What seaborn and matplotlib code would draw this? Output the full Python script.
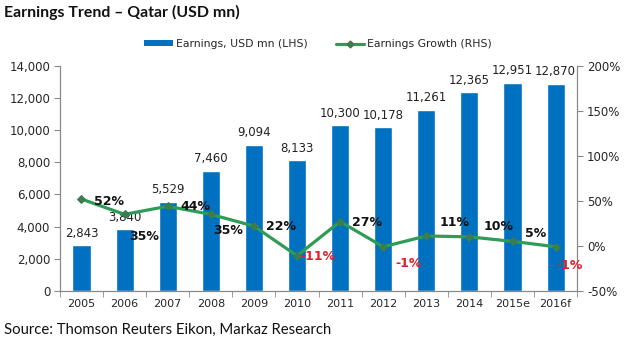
import matplotlib
matplotlib.use("Agg")
import matplotlib.pyplot as plt
import seaborn as sns
import numpy as np
import pandas as pd

years = ["2005", "2006", "2007", "2008", "2009", "2010", "2011", "2012", "2013", "2014", "2015e", "2016f"]
earnings = [2843, 3840, 5529, 7460, 9094, 8133, 10300, 10178, 11261, 12365, 12951, 12870]
growth = [52, 35, 44, 35, 22, -11, 27, -1, 11, 10, 5, -1]
# label offsets in pixels (dx, dy) relative to each growth point
label_offsets = [(13, -2), (5, -22), (13, 0), (2, -16), (12, 0), (3, -1), (12, -1), (12, -17), (13, 13), (14, 10), (12, 8), (1, -19)]

sns.set_style("white")
plt.rcParams['font.family'] = ['DejaVu Sans']
BODY = "DejaVu Sans"
HEAD = "Lato"

BLUE = "#0070C0"
GREEN = "#2E9B57"

fig = plt.figure(figsize=(6.24, 3.43), dpi=100)
ax = fig.add_axes([0.096, 0.152, 0.829, 0.656])

df = pd.DataFrame({"year": years, "earnings": earnings, "growth": growth})
sns.barplot(data=df, x="year", y="earnings", color=BLUE, width=0.42, saturation=1, ax=ax, zorder=2)

ax.set_ylim(0, 14000)
ax.set_yticks(np.arange(0, 14001, 2000))
ax.set_yticklabels([f"{v:,}" for v in range(0, 14001, 2000)], fontsize=8.5, fontfamily=BODY)
ax.set_xlim(-0.5, len(years) - 0.5)
ax.set_xticks(range(len(years)))
ax.set_xticklabels(years, fontsize=8, fontfamily=BODY)
ax.set_xlabel("")
ax.set_ylabel("")
ax.tick_params(axis="x", length=0, pad=6)
ax.tick_params(axis="y", length=4, color="#888888", direction="out", left=True, pad=3)
ax.set_xticks(np.arange(-0.5, len(years), 1), minor=True)
ax.tick_params(axis="x", which="minor", length=4, color="#888888", bottom=True)

ax.spines["top"].set_visible(False)
for s in ["left", "bottom", "right"]:
    ax.spines[s].set_color("#888888")
    ax.spines[s].set_linewidth(0.8)

for i, v in enumerate(earnings):
    ax.annotate(f"{v:,}", (i, v), xytext=(0, 4), textcoords="offset points",
                ha="center", va="bottom", fontsize=8.5, color="#222222", fontfamily=BODY)

ax2 = ax.twinx()
sns.lineplot(x=np.arange(len(years)), y=growth, ax=ax2, color=GREEN, linewidth=2.3,
             marker="D", markersize=4.5, markeredgecolor="#3a7d4f", markerfacecolor="#3a7d4f", zorder=3)
ax2.set_ylim(-50, 200)
ax2.set_yticks(np.arange(-50, 201, 50))
ax2.set_yticklabels([f"{v}%" for v in range(-50, 201, 50)], fontsize=8.5, fontfamily=BODY)
ax2.tick_params(axis="y", length=4, color="#888888", direction="out", right=True, pad=3)
ax2.spines["top"].set_visible(False)
for s in ["left", "bottom", "right"]:
    ax2.spines[s].set_color("#888888")
    ax2.spines[s].set_linewidth(0.8)
ax2.set_xlim(-0.5, len(years) - 0.5)

for i, (g, (dx, dy)) in enumerate(zip(growth, label_offsets)):
    col = "#E0202A" if g < 0 else "#111111"
    ax2.annotate(f"{g}%", (i, g), xytext=(dx, dy), textcoords="offset pixels",
                 ha="left", va="center", fontsize=9, fontweight="bold", color=col, zorder=4,
                 fontfamily=BODY)

from matplotlib.lines import Line2D
from matplotlib.patches import Patch
handles = [Patch(facecolor=BLUE, edgecolor="none"),
           Line2D([0], [0], color=GREEN, linewidth=2.3, marker="D", markersize=3.5,
                  markerfacecolor="#3a7d4f", markeredgecolor="#3a7d4f")]
fig.legend(handles, ["Earnings, USD mn (LHS)", "Earnings Growth (RHS)"],
           loc="center", bbox_to_anchor=(0.51, 0.872), ncol=2, frameon=False,
           prop={"family": BODY, "size": 7.8}, handlelength=2.6, handleheight=0.35,
           columnspacing=2.6, handletextpad=0.3)

fig.text(0.007, 0.963, "Earnings Trend \u2013 Qatar (USD mn)", fontsize=11.4, fontweight="bold",
         fontfamily=HEAD, ha="left", va="center", color="#111111")
fig.text(0.007, 0.037, "Source: Thomson Reuters Eikon, Markaz Research", fontsize=10.7,
         fontfamily=HEAD, ha="left", va="center", color="#111111")

fig.savefig("out.png", dpi=100)
